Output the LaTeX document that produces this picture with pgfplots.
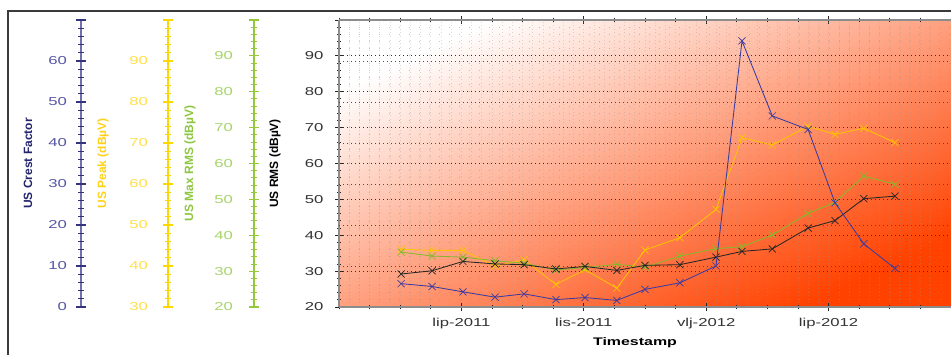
\documentclass[border=0pt]{standalone}
\usepackage{pgfplots}
\pgfplotsset{compat=1.18}
\usepackage{fontspec}
\setmainfont{Liberation Sans}
\newfontfamily\widefont[FakeStretch=1.45]{Liberation Sans}
\definecolor{frame}{HTML}{3A3A3A}
\definecolor{crestaxis}{HTML}{7070B0}
\definecolor{cresttick}{HTML}{34347E}
\definecolor{crestlab}{HTML}{5656A6}
\definecolor{cresttitle}{HTML}{25256E}
\definecolor{peakaxis}{HTML}{FFD700}
\definecolor{peaklab}{HTML}{FFE04A}
\definecolor{peaktitle}{HTML}{FFD21A}
\definecolor{maxaxis}{HTML}{96C83C}
\definecolor{maxlab}{HTML}{A6D46A}
\definecolor{maxtitle}{HTML}{8DC63F}
\definecolor{rmsaxis}{HTML}{8C8C8C}
\definecolor{rmslab}{HTML}{333333}
\definecolor{serblue}{HTML}{3B3BA0}
\definecolor{seryellow}{HTML}{FFC300}
\definecolor{sergreen}{HTML}{86B82E}
\definecolor{serblack}{HTML}{262626}
\definecolor{bgstart}{HTML}{FFFFFF}
\definecolor{bgmid}{HTML}{FB9472}
\definecolor{bgend}{HTML}{FF4200}

\pgfplotstableread{
x crest peak maxrms rms
-1.97 5.7 44.1 35.3 29.2
-0.96 5.0 43.8 34.2 30.1
0.05 3.7 43.8 33.9 32.7
1.10 2.4 40.0 32.9 32.0
2.05 3.2 41.5 32.2 31.8
3.09 1.8 35.5 30.3 30.6
4.04 2.3 39.1 31.0 31.3
5.08 1.6 34.6 31.9 30.2
6.00 4.3 43.9 31.1 31.6
7.14 5.9 46.9 34.2 31.8
8.32 10.0 53.8 36.3 33.9
9.17 64.9 71.3 36.8 35.5
10.16 46.6 69.5 40.1 36.2
11.33 43.3 74.1 46.1 42.0
12.21 25.4 72.1 49.2 44.1
13.15 15.4 73.6 56.5 50.2
14.17 9.4 70.1 54.2 50.9
}\datatable

\pgfplotsset{
  sidebase/.style={
    scale only axis, height=287pt, anchor=south west,
    xmin=0, xmax=1, axis line style={draw=none},
    major tick length=0pt, minor tick length=0pt, clip=false,
    /pgf/number format/assume math mode=true,
    yticklabel style={font=\widefont\fontsize{11.5}{13}\selectfont},
    every axis y label/.style={rotate=90, anchor=center, font=\bfseries\fontsize{12}{14}\selectfont},
  },
  sideline/.style={sidebase, width=10pt, xtick={0.5}, xticklabels={}, ytick=\empty,
    xmajorgrids, major grid style={#1, line width=1.7pt}},
  sidemaj/.style={sidebase, width=10pt, xtick=\empty, ymajorgrids,
    major grid style={#1, line width=1.1pt}},
  sidemin/.style={sidebase, width=6pt, xtick=\empty, yticklabels={}, ymajorgrids,
    major grid style={#1, line width=0.9pt}},
  dataaxis/.style={
    scale only axis, width=612pt, height=287pt, anchor=south west,
    at={(339pt,47pt)}, xmin=-4, xmax=16, hide axis, clip=false,
  },
  serstyle/.style={mark=x, mark size=5pt, line width=0.85pt, mark options={line width=0.7pt}},
}

\begin{document}
\begin{tikzpicture}[x=1pt,y=1pt]
\useasboundingbox (0,0) rectangle (951,354);
\draw[frame, line width=1.1pt] (8,-2) -- (8,343) -- (953,343);

% ---- US Crest Factor axis (line at x=81)
\begin{axis}[sideline=crestaxis, at={(76pt,47pt)}, ymin=0, ymax=70]
\addplot[draw=none] coordinates {(0,0)};
\end{axis}
\begin{axis}[sidemin=cresttick, at={(78pt,47pt)}, ymin=0, ymax=70,
  ytick={2,4,6,8,12,14,16,18,22,24,26,28,32,34,36,38,42,44,46,48,52,54,56,58,62,64,66,68}]
\addplot[draw=none] coordinates {(0,0)};
\end{axis}
\begin{axis}[sidemaj=cresttick, at={(76pt,47pt)}, ymin=0, ymax=70,
  ytick={0,10,...,70}, yticklabels={0,10,20,30,40,50,60,{}},
  yticklabel style={crestlab, xshift=-5.5pt},
  ylabel={US Crest Factor},
  ylabel style={at={([xshift=-48pt]axis description cs:0,0.5)}, cresttitle}]
\addplot[draw=none] coordinates {(0,0)};
\end{axis}

% ---- US Peak axis (line at x=168)
\begin{axis}[sideline=peakaxis, at={(163pt,47pt)}, ymin=30, ymax=100]
\addplot[draw=none] coordinates {(0,30)};
\end{axis}
\begin{axis}[sidemin=peakaxis, at={(165pt,47pt)}, ymin=30, ymax=100,
  ytick={32,34,36,38,42,44,46,48,52,54,56,58,62,64,66,68,72,74,76,78,82,84,86,88,92,94,96,98}]
\addplot[draw=none] coordinates {(0,30)};
\end{axis}
\begin{axis}[sidemaj=peakaxis, at={(163pt,47pt)}, ymin=30, ymax=100,
  ytick={30,40,...,100}, yticklabels={30,40,50,60,70,80,90,{}},
  yticklabel style={peaklab, xshift=-11.5pt},
  ylabel={US Peak (dBµV)},
  ylabel style={at={([xshift=-60pt]axis description cs:0,0.5)}, peaktitle}]
\addplot[draw=none] coordinates {(0,30)};
\end{axis}

% ---- US Max RMS axis (line at x=254)
\begin{axis}[sideline=maxaxis, at={(249pt,47pt)}, ymin=20, ymax=100]
\addplot[draw=none] coordinates {(0,20)};
\end{axis}
\begin{axis}[sidemin=maxaxis, at={(251pt,47pt)}, ymin=20, ymax=100,
  ytick={22,24,26,28,32,34,36,38,42,44,46,48,52,54,56,58,62,64,66,68,72,74,76,78,82,84,86,88,92,94,96,98}]
\addplot[draw=none] coordinates {(0,20)};
\end{axis}
\begin{axis}[sidemaj=maxaxis, at={(249pt,47pt)}, ymin=20, ymax=100,
  ytick={20,30,...,100}, yticklabels={20,30,40,50,60,70,80,90,{}},
  yticklabel style={maxlab, xshift=-12.5pt},
  ylabel={US Max RMS (dBµV)},
  ylabel style={at={([xshift=-59pt]axis description cs:0,0.5)}, maxtitle}]
\addplot[draw=none] coordinates {(0,20)};
\end{axis}

% ---- main axis (US RMS scale, background, grid)
\begin{axis}[scale only axis, width=612pt, height=287pt, anchor=south west,
  at={(339pt,47pt)}, xmin=-4, xmax=16, ymin=20, ymax=100,
  axis x line*=box, axis y line*=left,
  axis line style={rmsaxis, line width=1.4pt},
  tick align=center, major tick length=8pt, minor tick length=4.5pt,
  tick style={black!85, line width=0.9pt},
  xtick={0,4,8,12}, xticklabels={lip-2011,lis-2011,vlj-2012,lip-2012},
  minor xtick={-4,-3,...,16},
  ytick={20,30,...,100}, yticklabels={20,30,40,50,60,70,80,90,{}},
  minor ytick={22,24,...,98},
  /pgf/number format/assume math mode=true,
  ticklabel style={font=\widefont\fontsize{11.5}{13}\selectfont, rmslab},
  xticklabel style={yshift=-4pt},
  yticklabel style={xshift=-8pt},
  axis background/.style={top color=bgstart, middle color=bgmid, bottom color=bgend, shading angle=25},
  ymajorgrids, yminorgrids,
  major grid style={black!80, line width=0.9pt, dash pattern=on 1pt off 3pt},
  minor grid style={black!45, line width=0.8pt, dash pattern=on 1pt off 9pt, opacity=0.5},
  extra y ticks={31.43,42.86,54.29,65.71,77.14,88.57},
  extra y tick labels={},
  extra y tick style={major tick length=0pt, ymajorgrids=true,
     major grid style={black!70, line width=0.9pt, dash pattern=on 1pt off 3pt}},
  extra x ticks={-3.6667,-3.3333,...,15.8},
  extra x tick labels={},
  extra x tick style={major tick length=0pt, xmajorgrids=true,
     major grid style={black!40, line width=0.8pt, dash pattern=on 1pt off 2.6pt, opacity=0.35}},
  xlabel={Timestamp},
  every axis x label/.style={at={(axis description cs:0.5,0)}, anchor=center, yshift=-36pt, xshift=-10pt, font=\bfseries\widefont\fontsize{11}{13}\selectfont},
  ylabel={US RMS (dBµV)},
  every axis y label/.style={at={([xshift=-64pt]axis description cs:0,0.5)}, rotate=90, anchor=center, font=\bfseries\fontsize{12}{14}\selectfont, black},
]
\end{axis}

% ---- data series
\begin{axis}[dataaxis, ymin=30, ymax=100]
\addplot[serstyle, seryellow] table[x=x, y=peak] {\datatable};
\end{axis}
\begin{axis}[dataaxis, ymin=20, ymax=100]
\addplot[serstyle, sergreen] table[x=x, y=maxrms] {\datatable};
\end{axis}
\begin{axis}[dataaxis, ymin=20, ymax=100]
\addplot[serstyle, serblack] table[x=x, y=rms] {\datatable};
\end{axis}
\begin{axis}[dataaxis, ymin=0, ymax=70]
\addplot[serstyle, serblue] table[x=x, y=crest] {\datatable};
\end{axis}
\end{tikzpicture}
\end{document}
